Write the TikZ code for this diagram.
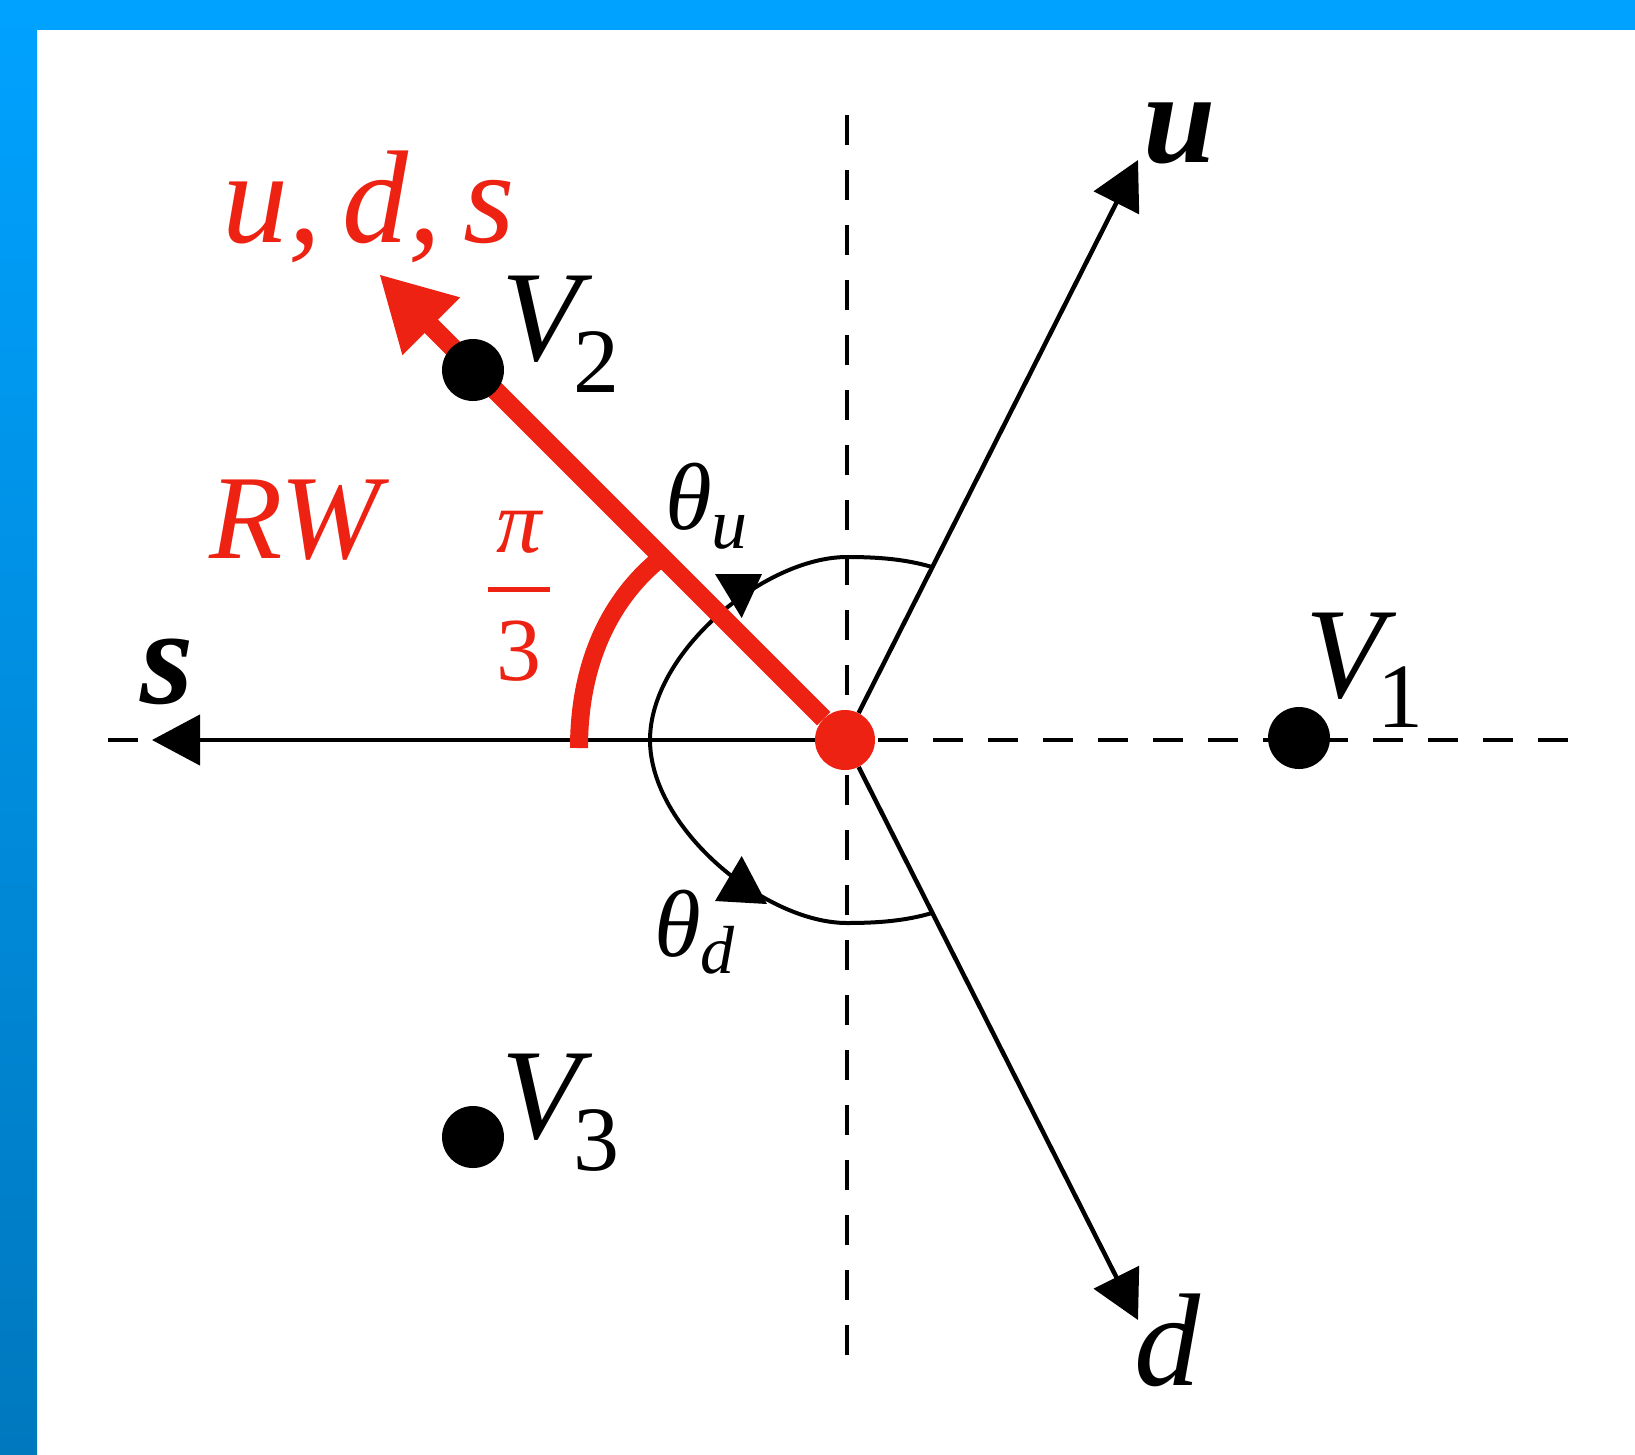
\documentclass[tikz,border=0pt]{standalone}
\usepackage{fontspec}
\setmainfont{Liberation Serif}
\usetikzlibrary{arrows.meta}
\definecolor{hotred}{RGB}{237,34,18}
\definecolor{topblue}{RGB}{0,162,255}
\definecolor{botblue}{RGB}{0,120,190}
\pgfdeclarelayer{back}
\pgfdeclarelayer{bg}
\pgfsetlayers{back,bg,main}
\newcommand{\fsz}[1]{\fontsize{#1}{#1}\selectfont}
\begin{document}
\begin{tikzpicture}[x=1pt,y=-1pt,
  lab/.style={inner sep=0pt, outer sep=0pt, anchor=base west},
  vdot/.style={circle, fill=black, inner sep=0pt, minimum size=62pt},
  axisline/.style={line width=4.5pt, dash pattern=on 30pt off 25pt},
  vec/.style={line width=4.5pt, -{Triangle[length=48pt,width=50pt]}},
  anglecurve/.style={line width=4pt},
  redvec/.style={hotred, line width=19pt, -{Triangle[length=74pt,width=76pt]}},
  redarc/.style={hotred, line width=18pt}]
\useasboundingbox (0,0) rectangle (1635,1454);
\begin{pgfonlayer}{back}
\fill[white] (0,0) rectangle (1635,1454);
\shade[top color=topblue, bottom color=botblue] (0,0) rectangle (37,1454);
\fill[topblue] (0,0) rectangle (1635,30);
\end{pgfonlayer}

% points
\node[circle, fill=hotred, inner sep=0pt, minimum size=60pt] (O) at (845,740) {};
\node[vdot] (V1) at (1299,738) {};
\node[vdot] (V2) at (473,370) {};
\node[vdot] (V3) at (473,1137) {};

\coordinate (hL) at (108,740);
\coordinate (hR) at (1585,740);
\coordinate (vT) at (847,115);
\coordinate (vB) at (847,1364);
\coordinate (sTip) at (152,740);
\coordinate (uTip) at (1138,160);
\coordinate (dTip) at (1138,1320);
\coordinate (qTip) at (379,274);

% labels
\node[lab, text=hotred] (uds) at (222,242) {\fsz{132}\itshape u,\,d,\,s};
\node[lab] (V2l) at (501,360) {\fsz{129}\itshape V\kern-6pt\raisebox{-32pt}{\fsz{92}\upshape 2}};
\node[lab] (V1l) at (1305,697) {\fsz{129}\itshape V\kern-6pt\raisebox{-30pt}{\fsz{92}\upshape 1}};
\node[lab] (V3l) at (501,1138) {\fsz{129}\itshape V\kern-6pt\raisebox{-32pt}{\fsz{92}\upshape 3}};
\node[lab, text=hotred] (RW) at (209,558) {\fsz{120}\itshape RW};
\node[lab] (sl) at (140,703) {\fsz{137}\bfseries\itshape s};
\node[lab] (ul) at (1143,162) {\fsz{130}\bfseries\itshape u};
\node[lab] (dl) at (1134,1385) {\fsz{132}\itshape d};
\node[lab] (thu) at (665,529) {\fsz{95}\itshape θ\raisebox{-19pt}{\fsz{72}u}};
\node[lab] (thd) at (654,956) {\fsz{95}\itshape θ\raisebox{-17pt}{\fsz{68}d}};
\node[inner sep=0pt, anchor=north, text=hotred] (frac) at (519,511)
  {\fsz{90}\vbox{\hbox to 62pt{\hss\itshape π\hss}\kern 34pt\hrule height 5pt\kern 29pt\hbox to 62pt{\hss 3\hss}}};

\begin{pgfonlayer}{bg}
\draw[axisline] (hL) -- (hR);
\draw[axisline] (vT) -- (vB);
\draw[vec] (O) -- (sTip);
\draw[vec] (O) -- (uTip);
\draw[vec] (O) -- (dTip);
\draw[anglecurve] (932,567) .. controls (905,559) and (877,557) .. (847,557)
  .. controls (765,557) and (650,652) .. (650,740)
  .. controls (650,828) and (765,923) .. (847,923)
  .. controls (877,923) and (905,921) .. (932,913);
\fill (715,574) -- (762,574) -- (741.7,618) -- cycle;
\fill (715,901) -- (767,904) -- (741.7,856) -- cycle;
\draw[redarc] (579,748) .. controls (579,666) and (608,600) .. (662,557);
\draw[redvec] (O) -- (qTip);
\end{pgfonlayer}
\end{tikzpicture}
\end{document}
